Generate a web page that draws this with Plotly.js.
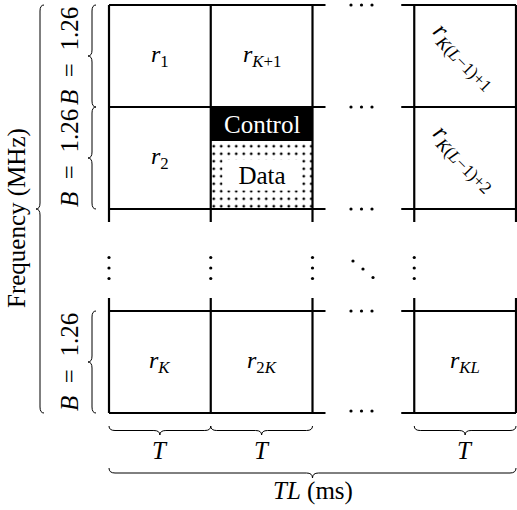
<!DOCTYPE html>
<html>
<head>
<meta charset="utf-8">
<script src="https://cdn.plot.ly/plotly-3.0.1.min.js"></script>
<style>html,body{margin:0;padding:0;background:#fff;}</style>
</head>
<body>
<div id="chart" style="width:517px;height:510px;"></div>
<script>
// ---- data ----
const colBlocks = [[0, 1, 2], [3, 4]];      // time-slot boundaries (left block, right block)
const rowBlocks = [[0, 1, 2], [3, 4]];      // frequency-band boundaries (top block, bottom block)
const cellX = [0.5, 1.5, 3.5, 0.5, 3.5, 0.5, 1.5, 3.5];
const cellY = [0.5, 0.5, 0.5, 1.5, 1.5, 3.5, 3.5, 3.5];
const cellText = [
  "<i>r</i><sub>1</sub>",
  "<i>r</i><sub><i>K</i>+1</sub>",
  "<i>r</i><sub><i>K</i>(<i>L</i>−1)+1</sub>",
  "<i>r</i><sub>2</sub>",
  "<i>r</i><sub><i>K</i>(<i>L</i>−1)+2</sub>",
  "<i>r</i><sub><i>K</i></sub>",
  "<i>r</i><sub>2<i>K</i></sub>",
  "<i>r</i><sub><i>KL</i></sub>"
];
const cellRotated = [false, false, true, false, true, false, false, false];
const controlCell = {col: 1.5, row: 1, controlFrac: 1/3};
const hdotRows = [0, 1, 2, 3, 4];
const vdotCols = [0, 1, 2, 3];
const freqBraces = [[0, 1], [1, 2], [3, 4]];
const freqLabel = "<i>B</i>\u2002=\u20021.26";
const timeBraces = [[0, 1], [1, 2], [3, 4]];
const timeLabel = "<i>T</i>";
const totalTimeLabel = "<i>TL</i> (ms)";
const yTitle = "Frequency (MHz)";

// ---- geometry ----
const W = 517, H = 510;
const CW = 101.75, CH = 102, X0 = 109, Y0 = 5;
const px = v => v / CW, py = v => v / CH;
const X = p => (p - X0) / CW, Y = p => (p - Y0) / CH;
const EXT = 13;
const FONT = "Liberation Serif, Times New Roman, serif";

// grid segments
const gx = [], gy = [];
rowBlocks.forEach((rb, ri) => {
  const gapAbove = ri > 0, gapBelow = ri < rowBlocks.length - 1;
  colBlocks.forEach((cb, ci) => {
    const gapLeft = ci > 0, gapRight = ci < colBlocks.length - 1;
    const xa = cb[0] - (gapLeft ? px(EXT) : 0), xb = cb[cb.length - 1] + (gapRight ? px(EXT) : 0);
    const ya = rb[0] - (gapAbove ? py(EXT) : 0), yb = rb[rb.length - 1] + (gapBelow ? py(EXT) : 0);
    rb.forEach(r => { gx.push(xa, xb, null); gy.push(r, r, null); });
    cb.forEach(c => { gx.push(c, c, null); gy.push(ya, yb, null); });
  });
});

// ellipsis dots
const dx = [], dy = [];
const hdOff = [-10.5, 0, 10.5].map(px);
const hdC = X(361.5);
hdotRows.forEach(r => hdOff.forEach(o => { dx.push(hdC + o); dy.push(r - py(r === 4 ? 2 : 0)); }));
const vdY = [257.5, 268, 278.5].map(Y);
vdotCols.forEach(c => vdY.forEach(v => { dx.push(c); dy.push(v); }));
[[353, 261], [363, 269], [373, 277.5]].forEach(p => { dx.push(X(p[0])); dy.push(Y(p[1])); });

const traces = [
  { type: 'bar', x: [controlCell.col], base: [controlCell.row], y: [controlCell.controlFrac], width: [1],
    marker: { color: 'black', line: { width: 0 } }, hoverinfo: 'skip' },
  { type: 'bar', x: [controlCell.col], base: [controlCell.row + controlCell.controlFrac], y: [1 - controlCell.controlFrac], width: [1],
    marker: { color: 'white', line: { width: 0 },
      pattern: { shape: '.', fgcolor: 'black', bgcolor: 'white', size: 7.5, solidity: 0.11, fillmode: 'replace' } },
    hoverinfo: 'skip' },
  { type: 'scatter', mode: 'lines', x: gx, y: gy, line: { color: 'black', width: 2.2 }, hoverinfo: 'skip' },
  { type: 'scatter', mode: 'markers', x: dx, y: dy, marker: { color: 'black', size: 3.2 }, hoverinfo: 'skip' }
];

// braces
function vBrace(y0, y1, xe, xt) { // vertical brace pointing left
  const xm = (xe + xt) / 2, ym = (y0 + y1) / 2, r = py(6);
  return `M ${xe},${y0} Q ${xm},${y0} ${xm},${y0 + r} L ${xm},${ym - r} Q ${xm},${ym} ${xt},${ym} ` +
         `Q ${xm},${ym} ${xm},${ym + r} L ${xm},${y1 - r} Q ${xm},${y1} ${xe},${y1}`;
}
function hBrace(x0, x1, ye, yt) { // horizontal brace pointing down
  const ym = (ye + yt) / 2, xm = (x0 + x1) / 2, r = px(6);
  return `M ${x0},${ye} Q ${x0},${ym} ${x0 + r},${ym} L ${xm - r},${ym} Q ${xm},${ym} ${xm},${yt} ` +
         `Q ${xm},${ym} ${xm + r},${ym} L ${x1 - r},${ym} Q ${x1},${ym} ${x1},${ye}`;
}
const shapes = [];
const brLine = { color: 'black', width: 1 };
freqBraces.forEach(b => shapes.push({ type: 'path', xref: 'x', yref: 'y', path: vBrace(b[0], b[1], X(96), X(88)), line: brLine }));
shapes.push({ type: 'path', xref: 'x', yref: 'y', path: vBrace(0, 4, X(44), X(36)), line: brLine });
timeBraces.forEach(b => shapes.push({ type: 'path', xref: 'x', yref: 'y', path: hBrace(b[0], b[1], Y(426), Y(435)), line: brLine }));
shapes.push({ type: 'path', xref: 'x', yref: 'y', path: hBrace(0, 4, Y(468), Y(478)), line: brLine });

// annotations
const ann = [];
const f = (size, color) => ({ family: FONT, size: size, color: color || 'black' });
cellText.forEach((t, i) => ann.push({ x: cellX[i], y: cellY[i], text: t, showarrow: false,
  textangle: cellRotated[i] ? 45 : 0, font: f(cellRotated[i] ? 25 : 24), xanchor: 'center', yanchor: 'middle' }));
ann.push({ x: controlCell.col, y: controlCell.row + controlCell.controlFrac / 2, text: 'Control', showarrow: false, font: f(25, 'white') });
ann.push({ x: controlCell.col, y: Y(175), text: 'Data', showarrow: false, font: f(25), bgcolor: 'white', width: 76, height: 28 });
freqBraces.forEach(b => ann.push({ x: X(69), y: (b[0] + b[1]) / 2, text: freqLabel, textangle: -90, showarrow: false, font: f(25) }));
ann.push({ x: X(17), y: Y(218), text: yTitle, textangle: -90, showarrow: false, font: f(25) });
timeBraces.forEach(b => ann.push({ x: (b[0] + b[1]) / 2, y: Y(450), text: timeLabel, showarrow: false, font: f(25) }));
ann.push({ x: 2, y: Y(491), text: totalTimeLabel, showarrow: false, font: f(25) });

const layout = {
  width: W, height: H, margin: { l: 0, r: 0, t: 0, b: 0 },
  paper_bgcolor: 'white', plot_bgcolor: 'white', showlegend: false, barmode: 'overlay',
  xaxis: { range: [X(0), X(W)], visible: false, fixedrange: true },
  yaxis: { range: [Y(H), Y(0)], visible: false, fixedrange: true },
  shapes: shapes, annotations: ann
};
Plotly.newPlot('chart', traces, layout, { displayModeBar: false, staticPlot: true });
</script>
</body>
</html>
